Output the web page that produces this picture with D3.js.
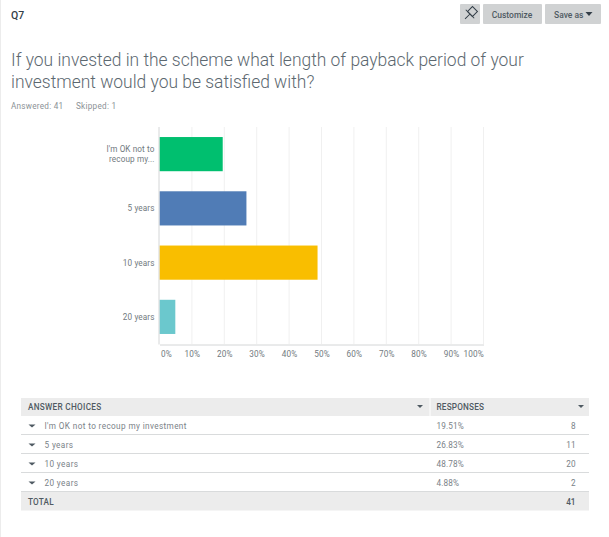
<!DOCTYPE html>
<html>
<head>
<meta charset="utf-8">
<script src="https://cdn.jsdelivr.net/npm/d3@7"></script>
<style>
  html, body { margin: 0; padding: 0; background: #fff; }
  svg { display: block; font-family: Roboto, sans-serif; }
</style>
</head>
<body>
<div id="chart"></div>
<script>
'use strict';

var chartLabels = [["I'm OK not to", "recoup my..."], ["5 years"], ["10 years"], ["20 years"]];
var choices = ["I'm OK not to recoup my investment", "5 years", "10 years", "20 years"];
var percents = [19.51, 26.83, 48.78, 4.88];
var counts = [8, 11, 20, 2];
var colors = ["#00bf6f", "#507cb6", "#f9be00", "#6bc8cd"];
var xTicks = [0, 10, 20, 30, 40, 50, 60, 70, 80, 90, 100];
var titleLines = ["If you invested in the scheme what length of payback period of your", "investment would you be satisfied with?"];

var svg = d3.select("#chart").append("svg")
  .attr("width", 609)
  .attr("height", 537);

// faint page edge on the left
svg.append("rect").attr("x", 0).attr("y", 0).attr("width", 1).attr("height", 537).attr("fill", "#ececec");

// Header
svg.append("text").attr("x", 11).attr("y", 19)
  .attr("font-size", 10.5).attr("font-weight", 500).attr("fill", "#333e48").text("Q7");

function button(x, w) {
  svg.append("rect").attr("x", x).attr("y", 4).attr("width", w).attr("height", 20).attr("rx", 1).attr("fill", "#d0d2d3");
}
button(460, 20);
button(483, 59);
button(545, 56);
svg.append("text").attr("x", 512).attr("y", 17.5).attr("text-anchor", "middle")
  .attr("font-size", 8.5).attr("font-weight", 500).attr("fill", "#4f5a62").text("Customize");
svg.append("text").attr("x", 554).attr("y", 17.5)
  .attr("font-size", 8.5).attr("font-weight", 500).attr("fill", "#4f5a62").text("Save as");

// pin icon
svg.append("g").attr("transform", "translate(470,14) rotate(45)")
  .attr("fill", "none").attr("stroke", "#333e48").attr("stroke-width", 1)
  .call(function(g) {
    g.append("rect").attr("x", -3.5).attr("y", -7).attr("width", 7).attr("height", 7);
    g.append("path").attr("d", "M-6,0H6M0,0V7");
  });
// save as caret
svg.append("path").attr("d", "M585.5,12h7l-3.5,4z").attr("fill", "#333e48");

svg.append("g").selectAll("text").data(titleLines).enter().append("text")
  .attr("x", 11)
  .attr("y", function(d, i) { return 66 + i * 22; })
  .attr("font-size", 17.45).attr("font-weight", 300).attr("fill", "#5c6870")
  .text(function(d) { return d; });

svg.append("text").attr("x", 11).attr("y", 109).attr("letter-spacing", 0.25)
  .attr("font-size", 8.2).attr("fill", "#8b9196").text("Answered: 41");
svg.append("text").attr("x", 76).attr("y", 109).attr("letter-spacing", 0.25)
  .attr("font-size", 8.2).attr("fill", "#8b9196").text("Skipped: 1");

// Chart scales
var x = d3.scaleLinear().domain([0, 100]).range([159.5, 483.5]);
var y = d3.scaleBand().domain(d3.range(chartLabels.length)).range([127, 344]).paddingInner(0.37).paddingOuter(0.185);

// Grid
svg.append("g").selectAll("line").data(xTicks.slice(1)).enter().append("line")
  .attr("x1", function(d) { return x(d); })
  .attr("x2", function(d) { return x(d); })
  .attr("y1", 127).attr("y2", 344)
  .attr("stroke", "#f0f0f0");

// Bars
svg.append("g").selectAll("rect").data(percents).enter().append("rect")
  .attr("x", x(0))
  .attr("y", function(d, i) { return y(i); })
  .attr("width", function(d) { return x(d) - x(0); })
  .attr("height", y.bandwidth())
  .attr("fill", function(d, i) { return colors[i]; });

// Axes
var xAxis = d3.axisBottom(x).tickValues(xTicks).tickSize(0).tickPadding(7)
  .tickFormat(function(d) { return d + "%"; });
var gx = svg.append("g").attr("transform", "translate(0,344.5)").call(xAxis);
gx.select(".domain").attr("stroke", "#d4d6d7");
gx.selectAll("text").attr("font-family", "Roboto, sans-serif").attr("font-size", 8.2).attr("fill", "#727a80")
  .attr("letter-spacing", 0.15)
  .attr("text-anchor", function(d) { return d === 0 ? "start" : d === 100 ? "end" : "middle"; });
gx.selectAll(".tick text").attr("dx", function(d) { return d === 0 ? 1 : 0; });

svg.append("line").attr("x1", x(0) - 0.5).attr("x2", x(0) - 0.5).attr("y1", 127).attr("y2", 344.5).attr("stroke", "#d4d6d7");

// Category labels
var ly = svg.append("g").selectAll("text").data(chartLabels).enter().append("text")
  .attr("text-anchor", "end")
  .attr("letter-spacing", 0.1)
  .attr("font-size", 8.2).attr("fill", "#727a80");
ly.selectAll("tspan").data(function(d, i) {
    return d.map(function(t, j) { return {t: t, i: i, j: j, n: d.length}; });
  }).enter().append("tspan")
  .attr("x", 154.5)
  .attr("y", function(d) { return y(d.i) + y.bandwidth() / 2 + 3 + (d.j - (d.n - 1) / 2) * 9.5; })
  .text(function(d) { return d.t; });

// Table
var tableLeft = 21, tableRight = 589, splitX = 430;
var rowY = d3.scaleBand().domain(d3.range(choices.length)).range([416, 492]);

function caret(cx, cy, fill) {
  svg.append("path").attr("d", "M" + (cx - 3) + "," + (cy - 1.5) + "h6l-3,3z").attr("fill", fill);
}

svg.append("rect").attr("x", tableLeft).attr("y", 398).attr("width", tableRight - tableLeft).attr("height", 18).attr("fill", "#ececec");
svg.append("line").attr("x1", splitX).attr("x2", splitX).attr("y1", 398).attr("y2", 416).attr("stroke", "#fff");
svg.append("text").attr("x", 28).attr("y", 410).attr("letter-spacing", 0.3).attr("font-size", 8.2).attr("font-weight", 500).attr("fill", "#4f5a62").text("ANSWER CHOICES");
svg.append("text").attr("x", 436.5).attr("y", 410).attr("letter-spacing", 0.2).attr("font-size", 8.2).attr("font-weight", 500).attr("fill", "#4f5a62").text("RESPONSES");
caret(420, 406.5, "#4f5a62");
caret(581, 406.5, "#4f5a62");

var rows = svg.append("g").selectAll("g").data(choices).enter().append("g")
  .attr("transform", function(d, i) { return "translate(0," + rowY(i) + ")"; });
rows.append("line")
  .attr("x1", tableLeft).attr("x2", tableRight)
  .attr("y1", rowY.bandwidth() - 0.5).attr("y2", rowY.bandwidth() - 0.5)
  .attr("stroke", "#d9dbdc");
rows.append("path").attr("d", "M28.5,8.5h7l-3.5,3z").attr("fill", "#4f5a62");
rows.append("text").attr("x", 44.5).attr("y", 13).attr("letter-spacing", 0.38).attr("font-size", 8.2).attr("fill", "#7a8288")
  .text(function(d) { return d; });
rows.append("text").attr("x", 436.5).attr("y", 13).attr("letter-spacing", 0.15).attr("font-size", 8.2).attr("fill", "#7a8288")
  .text(function(d, i) { return percents[i].toFixed(2) + "%"; });
rows.append("text").attr("x", 575.5).attr("y", 13).attr("text-anchor", "end").attr("font-size", 8.2).attr("fill", "#7a8288")
  .text(function(d, i) { return counts[i]; });

svg.append("rect").attr("x", tableLeft).attr("y", 492).attr("width", tableRight - tableLeft).attr("height", 18.5).attr("fill", "#ececec");
svg.append("text").attr("x", 28).attr("y", 504.5).attr("letter-spacing", 0.2).attr("font-size", 8.2).attr("font-weight", 500).attr("fill", "#4f5a62").text("TOTAL");
svg.append("text").attr("x", 575.5).attr("y", 504.5).attr("text-anchor", "end").attr("font-size", 8.2).attr("font-weight", 500).attr("fill", "#4f5a62")
  .text(d3.sum(counts));
</script>
</body>
</html>
